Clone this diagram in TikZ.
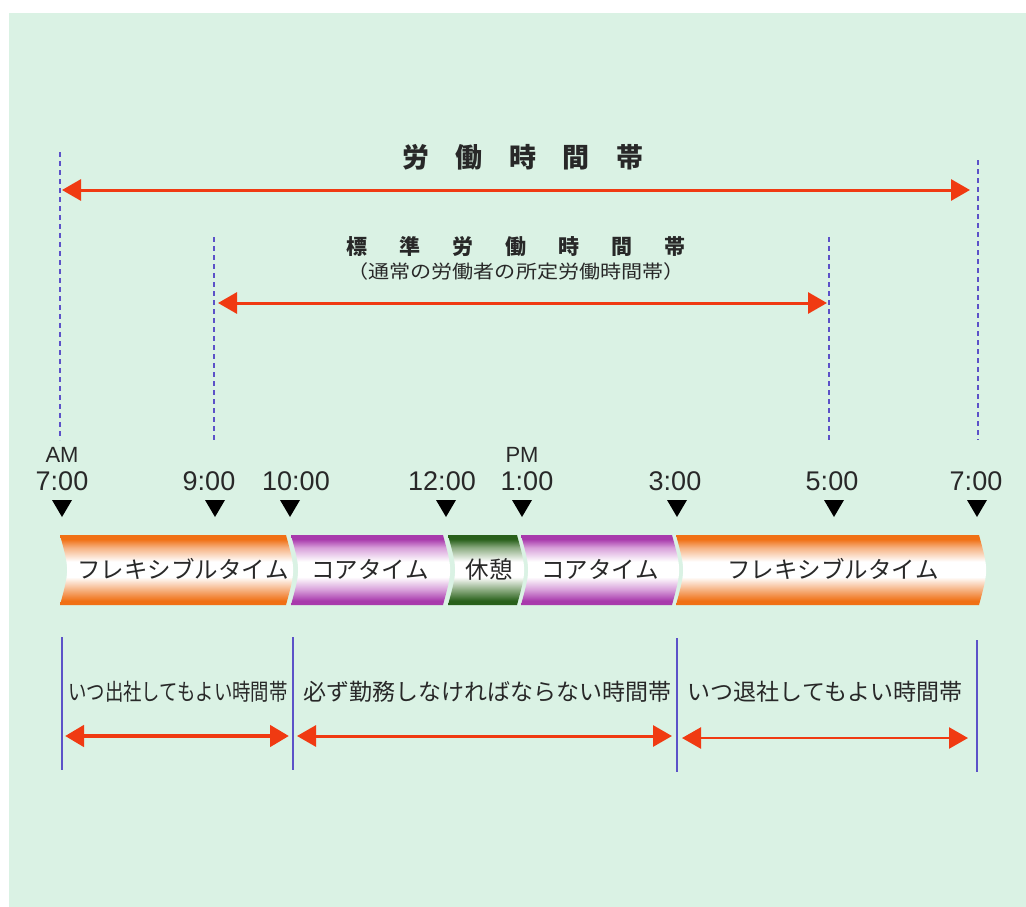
\documentclass[tikz,border=0pt]{standalone}
\usepackage{fontspec}
\usepackage{graphicx}
\setmainfont{Liberation Sans}
\newfontfamily\cjk{Noto Sans CJK JP}
\usetikzlibrary{arrows.meta}
\definecolor{bg}{RGB}{218,242,228}
\definecolor{txt}{RGB}{40,40,40}
\definecolor{arr}{RGB}{240,58,18}
\definecolor{vline}{RGB}{92,82,200}
\definecolor{orA}{RGB}{240,112,20}
\definecolor{orB}{RGB}{246,178,130}
\definecolor{puA}{RGB}{168,58,172}
\definecolor{puB}{RGB}{216,160,218}
\definecolor{grA}{RGB}{40,96,26}
\definecolor{grB}{RGB}{140,172,130}
\pgfdeclareverticalshading{ortube}{100bp}{color(0bp)=(orA); color(25bp)=(orA); color(28bp)=(orA); color(36bp)=(orB); color(45bp)=(white); color(56bp)=(white); color(66bp)=(orB); color(72bp)=(orA); color(75bp)=(orA); color(100bp)=(orA)}
\pgfdeclareverticalshading{putube}{100bp}{color(0bp)=(puA); color(25bp)=(puA); color(28bp)=(puA); color(36bp)=(puB); color(45bp)=(white); color(56bp)=(white); color(66bp)=(puB); color(72bp)=(puA); color(75bp)=(puA); color(100bp)=(puA)}
\pgfdeclareverticalshading{grtube}{100bp}{color(0bp)=(grA); color(25bp)=(grA); color(28bp)=(grA); color(36bp)=(grB); color(45bp)=(white); color(56bp)=(white); color(66bp)=(grB); color(72bp)=(grA); color(75bp)=(grA); color(100bp)=(grA)}
\newcommand\tubepart[3]{\shade[shading=#3] (#1,535) .. controls (#1+9.5,570) .. (#1,605) -- (#2,605) .. controls (#2+9.5,570) .. (#2,535) -- cycle;}
\tikzset{
  redarrow/.style={draw=arr, line width=3pt, {Triangle[length=19pt,width=21pt]}-{Triangle[length=19pt,width=21pt]}},
  dashline/.style={draw=vline, line width=1.6pt, dash pattern=on 5pt off 4pt},
  solidline/.style={draw=vline, line width=2pt},
  timelabel/.style={text=txt, font=\fontsize{27}{30}\selectfont, inner sep=0pt},
  ampm/.style={text=txt, font=\fontsize{22}{24}\selectfont, inner sep=0pt},
  bartext/.style={text=txt, font=\cjk\fontsize{23.5}{26}\selectfont, inner sep=0pt},
  lowtext/.style={text=txt, font=\cjk\fontsize{23}{26}\selectfont, inner sep=0pt},
  tick/.style={fill=black}
}
\begin{document}
\begin{tikzpicture}[x=1pt,y=-1pt]
\useasboundingbox (0,0) rectangle (1026,907);
\fill[white] (0,0) rectangle (1026,907);
\fill[bg] (9,13) rectangle (1026,907);

% dashed guide lines
\coordinate (d1t) at (60,152); \coordinate (d1b) at (60,440);
\coordinate (d2t) at (214,237); \coordinate (d2b) at (214,440);
\coordinate (d3t) at (829,237); \coordinate (d3b) at (829,440);
\coordinate (d4t) at (978,160); \coordinate (d4b) at (978,440);
\draw[dashline] (d1t) -- (d1b);
\draw[dashline] (d2t) -- (d2b);
\draw[dashline] (d3t) -- (d3b);
\draw[dashline] (d4t) -- (d4b);

% titles
\node[text=txt, font=\cjk\bfseries\fontsize{27}{30}\selectfont, inner sep=0pt] (title) at (523,157) {労\kern26.5pt 働\kern26.5pt 時\kern26.5pt 間\kern26.5pt 帯};
\node[text=txt, font=\cjk\bfseries\fontsize{21}{24}\selectfont, inner sep=0pt] (stitle) at (516,247) {標\kern32pt 準\kern32pt 労\kern32pt 働\kern32pt 時\kern32pt 間\kern32pt 帯};
\node[text=txt, font=\cjk\fontsize{18.5}{20}\selectfont, inner sep=0pt] (ssub) at (516,271) {\scalebox{1.14}[1]{（通常の労働者の所定労働時間帯）}};

% top arrows
\coordinate (wL) at (62,190); \coordinate (wR) at (970,190);
\coordinate (sL) at (218,303); \coordinate (sR) at (827,303);
\draw[redarrow] (wL) -- (wR);
\draw[redarrow] (sL) -- (sR);

% time labels
\node[ampm] (am) at (62,455) {AM};
\node[ampm] (pm) at (522,455) {PM};
\node[timelabel] (t1) at (62,481) {7:00};
\node[timelabel] (t2) at (209,481) {9:00};
\node[timelabel] (t3) at (296,481) {10:00};
\node[timelabel] (t4) at (442,481) {12:00};
\node[timelabel] (t5) at (527,481) {1:00};
\node[timelabel] (t6) at (675,481) {3:00};
\node[timelabel] (t7) at (832,481) {5:00};
\node[timelabel] (t8) at (976,481) {7:00};

% ticks
\foreach \x in {62,215,290,446,522,677,834,977}
  \fill[tick] (\x-10,500) -- (\x+10,500) -- (\x,517) -- cycle;

% bar
\tubepart{60}{286}{ortube}
\tubepart{291}{443}{putube}
\tubepart{448}{517}{grtube}
\tubepart{521}{672}{putube}
\tubepart{676}{979}{ortube}
\node[bartext] (b1) at (183,569) {フレキシブルタイム};
\node[bartext] (b2) at (370,569) {コアタイム};
\node[bartext] (b3) at (489,569) {休憩};
\node[bartext] (b4) at (600,569) {コアタイム};
\node[bartext] (b5) at (833,569) {フレキシブルタイム};

% lower boundaries
\coordinate (v1t) at (62,637); \coordinate (v1b) at (62,770);
\coordinate (v2t) at (293,637); \coordinate (v2b) at (293,770);
\coordinate (v3t) at (677,638); \coordinate (v3b) at (677,772);
\coordinate (v4t) at (977,640); \coordinate (v4b) at (977,772);
\draw[solidline] (v1t) -- (v1b);
\draw[solidline] (v2t) -- (v2b);
\draw[solidline] (v3t) -- (v3b);
\draw[solidline] (v4t) -- (v4b);

% lower labels
\node[lowtext] (l1) at (178,692) {\scalebox{0.8}[1]{いつ出社してもよい時間帯}};
\node[lowtext] (l2) at (487,692) {必ず勤務しなければならない時間帯};
\node[lowtext] (l3) at (825,692) {いつ退社してもよい時間帯};

% lower arrows
\coordinate (a1L) at (65,736); \coordinate (a1R) at (289,736);
\coordinate (a2L) at (297,736); \coordinate (a2R) at (672,736);
\coordinate (a3L) at (682,738); \coordinate (a3R) at (968,738);
\draw[redarrow, line width=4.5pt] (a1L) -- (a1R);
\draw[redarrow] (a2L) -- (a2R);
\draw[redarrow, line width=2.5pt] (a3L) -- (a3R);
\end{tikzpicture}
\end{document}
